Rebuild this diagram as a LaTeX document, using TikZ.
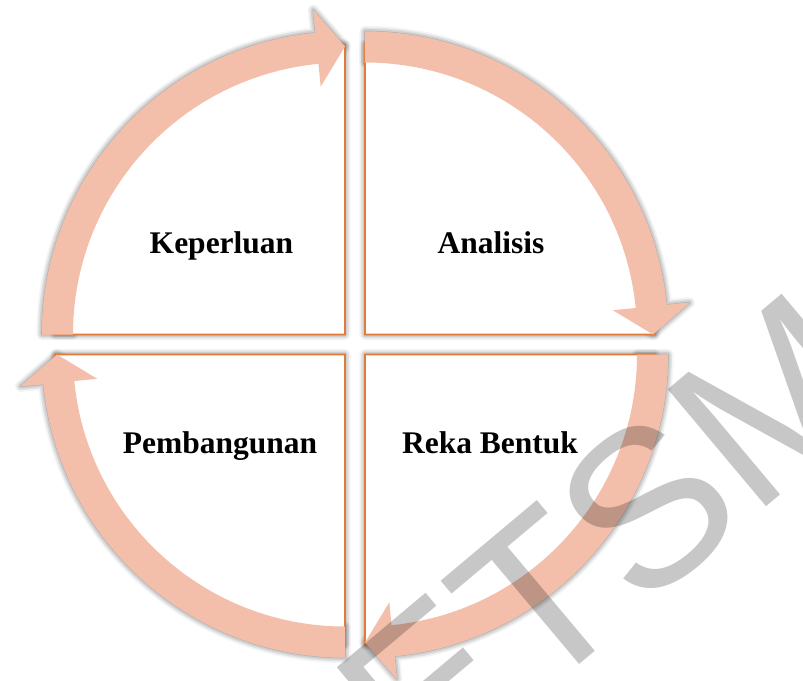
\documentclass[tikz,border=0pt]{standalone}
\usepackage{fontspec}
\setmainfont{Liberation Serif}
\newfontfamily\markfont{Liberation Sans}
\usetikzlibrary{shadows.blur}
\definecolor{rimorange}{HTML}{E07B39}
\definecolor{bandpink}{HTML}{F4BFAA}

% one quarter band with its arrow head, drawn for the top right quarter
\newcommand{\bandpath}{%
  (10,282) -- (10,313) arc[start angle=90, end angle=5.6, radius=303]
  -- ([shift={(10,10)}]5.6:326) -- (298,10) -- ([shift={(10,10)}]5.6:249)
  -- ([shift={(10,10)}]5.6:272) arc[start angle=5.6, end angle=90, radius=272]
  -- cycle}

\begin{document}
\begin{tikzpicture}[x=0.025cm, y=0.025cm,
  every node/.style={font=\fontsize{22.4}{26}\selectfont\bfseries},
  sector/.style={fill=white, draw=rimorange, line width=1.3pt},
  band/.style={fill=bandpink},
  glow/.style={blur shadow={shadow xshift=0pt, shadow yshift=0pt,
               shadow blur radius=4pt, shadow opacity=60}}
]
  \useasboundingbox (-355,-335.5) rectangle (448,344.5);
  \clip (-355,-335.5) rectangle (448,344.5);

  % shadows under the bands
  \foreach \r in {0,-90,-180,-270}{
    \begin{scope}[rotate=\r]
      \fill[band, glow] \bandpath;
    \end{scope}
  }

  % quarters
  \foreach \r in {0,-90,-180,-270}{
    \begin{scope}[rotate=\r]
      \draw[sector, glow] (10,10) -- (10,300) arc[start angle=90, end angle=0, radius=290] -- cycle;
    \end{scope}
  }

  % bands
  \foreach \r in {0,-90,-180,-270}{
    \begin{scope}[rotate=\r]
      \fill[band] \bandpath;
    \end{scope}
  }

  \node[anchor=base] (keperluan) at (-133.5,91.5) {Keperluan};
  \node[anchor=base] (analisis) at (136,91.5) {Analisis};
  \node[anchor=base] (pembangunan) at (-135,-108.5) {Pembangunan};
  \node[anchor=base] (rekabentuk) at (135,-108.5) {Reka Bentuk};

  % watermark
  \node[font=\markfont\fontsize{158}{158}\selectfont, rotate=40, inner sep=0pt,
        text=black, text opacity=0.22] (mark) at (254,-195) {ETSM};
\end{tikzpicture}
\end{document}
